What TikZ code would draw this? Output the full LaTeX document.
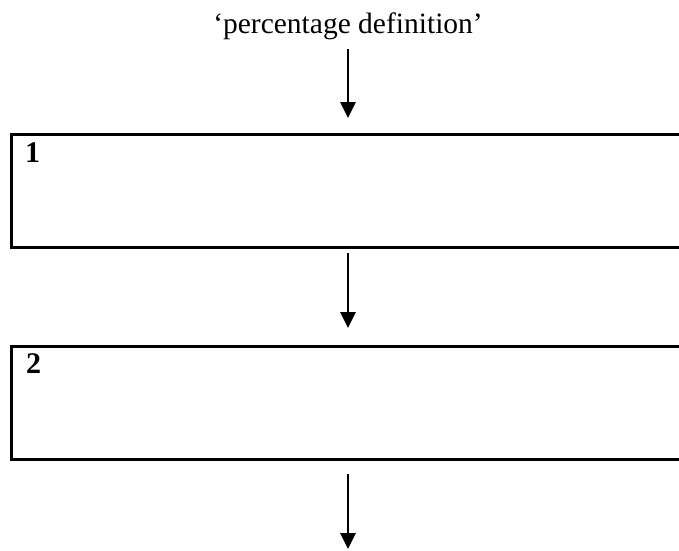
\documentclass[tikz,border=0pt]{standalone}
\usepackage{fontspec}
\setmainfont{Liberation Serif}
\usetikzlibrary{arrows.meta}
\begin{document}
\begin{tikzpicture}[x=1pt,y=-1pt,
  txt/.style={inner sep=0pt,font=\fontsize{29.5}{34}\selectfont},
  digit/.style={inner sep=0pt,font=\fontsize{30}{34}\selectfont\bfseries},
  stagebox/.style={draw,line width=3pt,minimum width=700pt,minimum height=113pt,inner sep=0pt,outer sep=0pt},
  flow/.style={line width=2.8pt,-{Triangle[width=15pt,length=16pt]}}]
\useasboundingbox (0,0) rectangle (679,550);
\clip (0,0) rectangle (679,550);
\node[txt,anchor=base] (t) at (348,33) {‘percentage definition’};
\node[stagebox,anchor=north west] (b1) at (11,134) {};
\node[stagebox,anchor=north west] (b2) at (11,346) {};
\node[digit,anchor=base west] (n1) at (25,162) {1};
\node[digit,anchor=base west] (n2) at (26,373) {2};
\coordinate (e3) at (348,549);
\draw[flow,shorten <=9pt,shorten >=16pt] (t.south) -- (t.south |- b1.north);
\draw[flow,shorten <=6pt,shorten >=18pt] (t.south |- b1.south) -- (t.south |- b2.north);
\draw[flow,shorten <=15pt] (t.south |- b2.south) -- (e3);
\end{tikzpicture}
\end{document}
